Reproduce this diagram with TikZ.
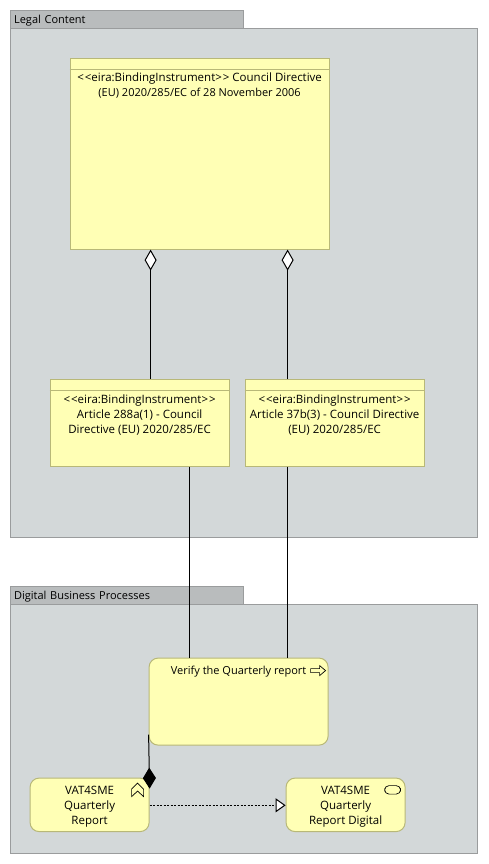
\documentclass[tikz,border=0pt]{standalone}
\usepackage{fontspec}
\setmainfont{Open Sans}
\usetikzlibrary{arrows.meta}
\definecolor{grpfill}{HTML}{D3D8D9}
\definecolor{grptab}{HTML}{B9BCBD}
\definecolor{grpline}{HTML}{9A9C9D}
\definecolor{elfill}{HTML}{FFFFB5}
\definecolor{elline}{HTML}{B8B878}
\newcommand{\elfont}{\fontsize{11.5}{15}\selectfont}
\newcommand{\elsmall}{\fontsize{11}{15}\selectfont}
\newcommand{\lb}{<\kern1pt<}
\newcommand{\rb}{>\kern1pt>}
% width, height, top gap, text
\newcommand{\eltext}[4]{\parbox[c][#2pt][t]{#1pt}{\elfont\centering\vspace*{#3pt}#4\par}}
\tikzset{
  x=1pt,y=-1pt,
  grpbody/.style={draw=grpline,fill=grpfill,line width=1pt,rectangle,inner sep=0pt,anchor=north west},
  grphead/.style={draw=grpline,fill=grptab,line width=1pt,rectangle,inner sep=0pt,anchor=north west,minimum width=233pt,minimum height=18pt,text width=225pt,align=left,font=\elsmall},
  artefact/.style={draw=elline,fill=elfill,line width=1pt,rectangle,inner sep=0pt,anchor=north west},
  procbox/.style={artefact,rounded corners=9pt},
  conn/.style={draw=black,line width=1pt},
  aggr/.style={conn,{Diamond[open,fill=white,length=21pt,width=12pt,line width=1pt]}-},
  comp/.style={conn,-{Diamond[length=21pt,width=13pt]}},
  realize/.style={conn,dash pattern=on 2pt off 1.5pt,line width=.8pt,-{Triangle[open,fill=white,length=10pt,width=14pt,line width=1pt]}},
  glyph/.style={draw=black,line width=.7pt,fill=elfill},
}
\begin{document}
\begin{tikzpicture}
\useasboundingbox (.9,.9) rectangle (488.9,864.9);
\fill[white] (.9,.9) rectangle (488.9,864.9);
% groups
\node[grpbody,minimum width=467pt,minimum height=509pt] (g1) at (10.5,28.5) {};
\node[grphead] (g1h) at (10.5,10.5) {\smash{\raisebox{-4pt}{Legal Content}}};
\node[grpbody,minimum width=467pt,minimum height=249pt] (g2) at (10.5,604.5) {};
\node[grphead] (g2h) at (10.5,586.5) {\smash{\raisebox{-4pt}{Digital Business Processes}}};
% contracts
\node[artefact] (dir) at (70.5,58.5) {\eltext{259}{191}{15}{\mbox{\lb eira:BindingInstrument\rb{} Council Directive}\\{\elsmall (EU) 2020/285/EC of 28 November 2006}}};
\node[artefact] (a) at (50.5,379.5) {\eltext{179}{87}{16}{\lb eira:BindingInstrument\rb\\Article 288a(1) - Council\\Directive (EU) 2020/285/EC}};
\node[artefact] (b) at (245.5,379.5) {\eltext{179}{87}{16}{\lb eira:BindingInstrument\rb\\\mbox{Article 37b(3) - Council Directive}\\(EU) 2020/285/EC}};
\draw[elline,line width=1pt] ([yshift=-12pt]dir.north west) -- ([yshift=-12pt]dir.north east);
\draw[elline,line width=1pt] ([yshift=-12pt]a.north west) -- ([yshift=-12pt]a.north east);
\draw[elline,line width=1pt] ([yshift=-12pt]b.north west) -- ([yshift=-12pt]b.north east);
% processes
\node[procbox] (proc) at (149.5,658.5) {\eltext{179}{87}{7.5}{\elsmall Verify the Quarterly report}};
\node[procbox] (c) at (30.5,778.5) {\eltext{119}{53.5}{8.5}{VAT4SME\\Quarterly\\Report}};
\node[procbox] (d) at (286.5,778.5) {\eltext{119}{53.5}{8.5}{VAT4SME\\Quarterly\\Report Digital}};
% icons
\draw[glyph,line join=miter] (311.5,669.5) -- (320.5,669.5) -- (320.5,666.5) -- (326.5,671.5) -- (320.5,676.5) -- (320.5,673.5) -- (311.5,673.5) -- cycle;
\draw[glyph,line join=miter] (132.5,790) -- (138.5,784) -- (144.5,790) -- (144.5,797.5) -- (138.5,792) -- (132.5,797.5) -- cycle;
\draw[glyph,rounded corners=4.4pt] (385.5,786.5) rectangle (401.5,795);
% connectors
\draw[aggr] ([xshift=81pt]dir.south west) -- ([xshift=101pt]a.north west);
\draw[aggr] ([xshift=218pt]dir.south west) -- ([xshift=43pt]b.north west);
\draw[conn] ([xshift=140pt]a.south west) -- ([xshift=41pt]proc.north west);
\draw[conn] ([xshift=43pt]b.south west) -- ([xshift=139pt]proc.north west);
\draw[comp] ([yshift=11pt]proc.south west) -- ([yshift=-11pt]c.north east);
\draw[realize] ([yshift=-27.7pt]c.north east) -- ([yshift=-27.7pt]d.north west);
\end{tikzpicture}
\end{document}
